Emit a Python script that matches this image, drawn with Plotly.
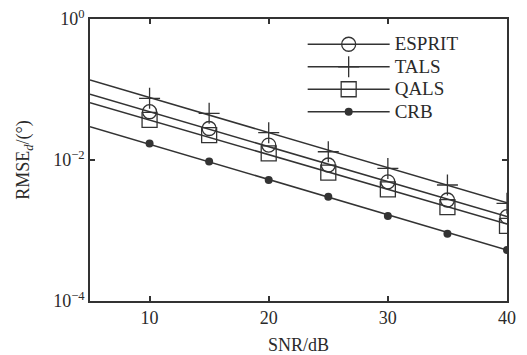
import plotly.graph_objects as go

# ---- data ----
snr = [10, 15, 20, 25, 30, 35, 40]
esprit = [0.0484, 0.028, 0.0163, 0.0085, 0.0049, 0.00271, 0.00157]
tals = [0.075, 0.046, 0.0244, 0.0131, 0.0076, 0.00442, 0.00243]
qals = [0.037, 0.0226, 0.01245, 0.0066, 0.00384, 0.00214, 0.00116]
crb = [0.0171, 0.0095, 0.0052, 0.0030, 0.0016, 0.00090, 0.00053]

# fitted straight lines (end points at SNR = 5 and 40 dB)
line_snr = [5, 40]
esprit_line = [0.0855, 0.00158]
tals_line = [0.136, 0.00248]
qals_line = [0.065, 0.00124]
crb_line = [0.0297, 0.00053]

names = ["ESPRIT", "TALS", "QALS", "CRB"]
ytick_vals = [1, 0.01, 0.0001]
ytick_text = ["10<sup>0</sup>", "10<sup>−2</sup>", "10<sup>−4</sup>"]
xtick_vals = [10, 20, 30, 40]

col = "#333333"
txt = "#2a2a2a"
font = dict(family="Liberation Serif", size=18, color=txt)

fig = go.Figure()
series = [
    (esprit, esprit_line, dict(symbol="circle-open", size=14, color=col, line=dict(width=1.3, color=col))),
    (tals, tals_line, dict(symbol="cross-thin-open", size=15, color=col, line=dict(width=1.3, color=col))),
    (qals, qals_line, dict(symbol="square-open", size=15, color=col, line=dict(width=1.3, color=col))),
    (crb, crb_line, dict(symbol="circle", size=8, color=col, line=dict(width=0))),
]
for name, (pts, ln, mk) in zip(names, series):
    fig.add_trace(go.Scatter(x=line_snr, y=ln, mode="lines", line=dict(color=col, width=1.5),
                             showlegend=False, hoverinfo="skip"))
    fig.add_trace(go.Scatter(x=snr, y=pts, mode="markers",
                             marker=mk, name=name, showlegend=False))
    # legend entry
    fig.add_trace(go.Scatter(x=[None], y=[None], mode="lines+markers", marker=mk,
                             line=dict(color=col, width=1.5),
                             name='<span style="font-size:19px">%s</span>' % name))

axis_common = dict(showline=True, linecolor=col, linewidth=1.5, mirror="ticks",
                   ticks="inside", ticklen=5, tickwidth=1.5, tickcolor=col,
                   showgrid=False, zeroline=False, tickfont=font, automargin=False)
fig.update_xaxes(range=[5, 40], tickvals=xtick_vals, ticklabelstandoff=0,
                 title=dict(text="SNR/dB", font=font, standoff=16), **axis_common)
fig.update_yaxes(type="log", range=[-4, 0], tickvals=ytick_vals, ticktext=ytick_text,
                 title=dict(text="RMSE<sub><i>d</i></sub>/(°)", font=font, standoff=19), **axis_common)

fig.update_layout(
    width=527, height=355,
    margin=dict(l=90, r=20, t=19, b=54),
    paper_bgcolor="white", plot_bgcolor="white",
    font=font,
    legend=dict(x=0.51, y=0.968, xanchor="left", yanchor="top", bgcolor="rgba(0,0,0,0)",
                itemwidth=82, tracegroupgap=0, font=dict(family="Liberation Serif", size=15, color=txt)),
)
fig.write_html("out.html")
